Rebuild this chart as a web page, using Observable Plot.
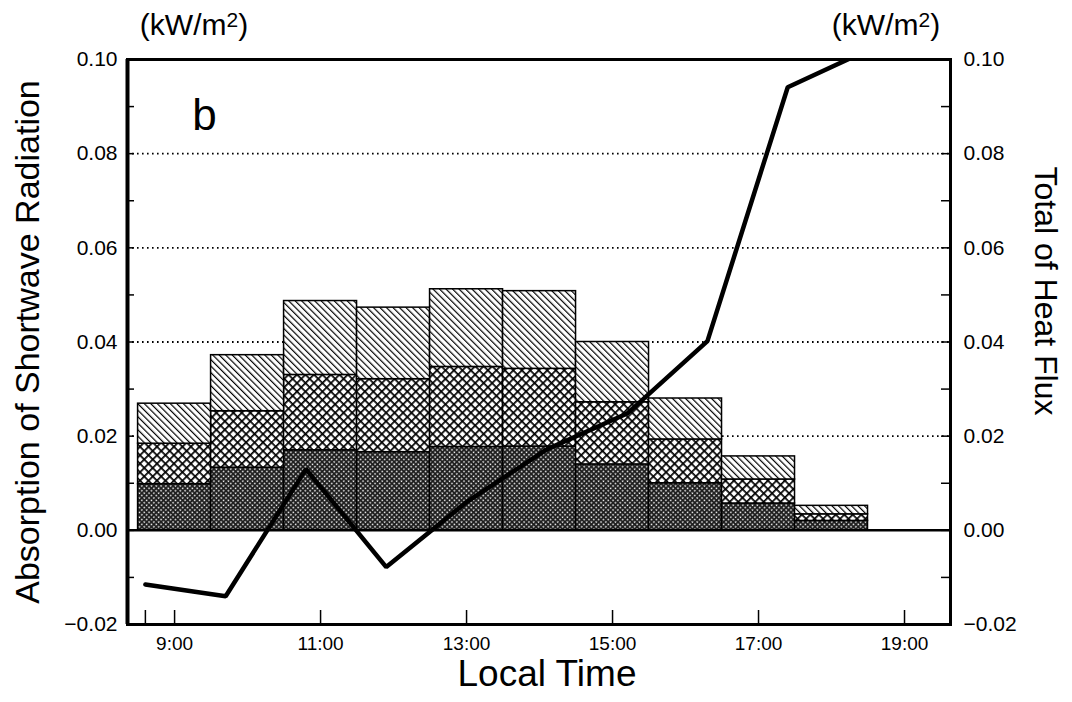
<!DOCTYPE html>
<html>
<head>
<meta charset="utf-8">
<script src="https://cdn.jsdelivr.net/npm/d3@7"></script>
<script src="https://cdn.jsdelivr.net/npm/@observablehq/plot@0.6"></script>
<style>
  html, body { margin: 0; padding: 0; background: #fff; }
  svg { display: block; }
</style>
</head>
<body>
<div id="chart"></div>
<script>
// ---- data ----
const hours = [9, 10, 11, 12, 13, 14, 15, 16, 17, 18];
const darkTop  = [0.0098, 0.0133, 0.0170, 0.0166, 0.0177, 0.0178, 0.0140, 0.0100, 0.0057, 0.0020];
const crossTop = [0.0184, 0.0253, 0.0330, 0.0321, 0.0347, 0.0343, 0.0272, 0.0193, 0.0108, 0.0034];
const hatchTop = [0.0269, 0.0372, 0.0487, 0.0473, 0.0512, 0.0508, 0.0400, 0.0280, 0.0157, 0.0052];

const fluxTimes  = [8.6, 9.7, 10.8, 11.9, 13.0, 14.1, 15.2, 16.3, 17.4, 18.5];
const fluxValues = [-0.0115, -0.0140, 0.0130, -0.0078, 0.0060, 0.0172, 0.0248, 0.0402, 0.0941, 0.1020];

const yTicks = [-0.02, 0.00, 0.02, 0.04, 0.06, 0.08, 0.10];
const yMinorTicks = [-0.01, 0.00, 0.01, 0.02, 0.03, 0.04, 0.05, 0.06, 0.07, 0.08, 0.09];
const gridValues = [0.02, 0.04, 0.06, 0.08];
const xLabelTicks = [9, 11, 13, 15, 17, 19];
const xTickMarks = [8.6, 9, 11, 13, 15, 17, 19];
const xDomain = [8.355, 19.63];
const yDomain = [-0.02, 0.10];

// ---- build tables ----
const bars = hours.map((h, i) => ({h, dark: darkTop[i], cross: crossTop[i], hatch: hatchTop[i]}));
const flux = fluxTimes.map((t, i) => ({t, v: fluxValues[i]}));

const W = 1072, H = 702;
const mL = 127, mR = 122, mT = 59, mB = 78;
const frameW = W - mL - mR, frameH = H - mT - mB;
const font = "'Liberation Sans', Arial, Helvetica, sans-serif";

const svg = Plot.plot({
  width: W, height: H,
  marginLeft: mL, marginRight: mR, marginTop: mT, marginBottom: mB,
  style: {fontFamily: font, background: "#fff", color: "#000", overflow: "visible"},
  x: {domain: xDomain},
  y: {domain: yDomain},
  marks: [
    Plot.ruleY(gridValues, {y: d => d, stroke: "#000", strokeWidth: 1.8, strokeDasharray: "1.6,3.4"}),
    Plot.rect(bars, {x1: d => d.h - 0.5, x2: d => d.h + 0.5, y1: 0, y2: d => d.dark,
      fill: "url(#pDark)", stroke: "#000", strokeWidth: 1.5}),
    Plot.rect(bars, {x1: d => d.h - 0.5, x2: d => d.h + 0.5, y1: d => d.dark, y2: d => d.cross,
      fill: "url(#pCross)", stroke: "#000", strokeWidth: 1.5}),
    Plot.rect(bars, {x1: d => d.h - 0.5, x2: d => d.h + 0.5, y1: d => d.cross, y2: d => d.hatch,
      fill: "url(#pHatch)", stroke: "#000", strokeWidth: 1.5}),
    Plot.ruleY([0], {stroke: "#000", strokeWidth: 2.5}),
    Plot.line(flux, {x: "t", y: "v", stroke: "#000", strokeWidth: 4.5, strokeLinejoin: "miter", clip: true}),
    // inward ticks
    Plot.ruleY(yMinorTicks, {y: d => d, insetRight: frameW - 7, stroke: "#000", strokeWidth: 1.5}),
    Plot.ruleY(yMinorTicks, {y: d => d, insetLeft: frameW - 9, stroke: "#000", strokeWidth: 1.5}),
    Plot.ruleX(xTickMarks, {x: d => d, insetTop: frameH - 14, stroke: "#000", strokeWidth: 1.5}),
    Plot.frame({stroke: "#000", strokeWidth: 3}),
    Plot.ruleX([xDomain[0]], {stroke: "#000", strokeWidth: 4}),
    Plot.axisY({anchor: "left", ticks: yTicks, tickFormat: d3.format(".2f"), tickSize: 0, tickPadding: 10, fontSize: 21, label: null}),
    Plot.axisY({anchor: "right", ticks: yTicks, tickFormat: d3.format(".2f"), tickSize: 0, tickPadding: 13, fontSize: 21, label: null}),
    Plot.axisX({ticks: xLabelTicks, tickFormat: d => d + ":00", tickSize: 0, tickPadding: 12, fontSize: 19, label: null}),
    Plot.text(["b"], {frameAnchor: "top-left", textAnchor: "middle", lineAnchor: "middle", dx: 77, dy: 56, fontSize: 44, text: d => d}),
    Plot.text(["Absorption of Shortwave Radiation"], {frameAnchor: "left", textAnchor: "middle", lineAnchor: "middle", dx: -99, rotate: -90, fontSize: 34, text: d => d}),
    Plot.text(["Total of Heat Flux"], {frameAnchor: "right", textAnchor: "middle", lineAnchor: "middle", dx: 95, dy: -51, rotate: 90, fontSize: 32, text: d => d}),
    Plot.text(["Local Time"], {frameAnchor: "bottom", textAnchor: "middle", lineAnchor: "middle", dx: 8, dy: 50, fontSize: 37, text: d => d})
  ]
});

// patterns
const defs = d3.select(svg).insert("defs", ":first-child");
const pH = defs.append("pattern").attr("id", "pHatch").attr("patternUnits", "userSpaceOnUse")
  .attr("width", 4.6).attr("height", 4.6).attr("patternTransform", "rotate(-45)");
pH.append("rect").attr("width", 4.6).attr("height", 4.6).attr("fill", "#fff");
pH.append("line").attr("x1", 0.6).attr("y1", -1).attr("x2", 0.6).attr("y2", 6).attr("stroke", "#000").attr("stroke-width", 1.2);

const pC = defs.append("pattern").attr("id", "pCross").attr("patternUnits", "userSpaceOnUse")
  .attr("width", 6).attr("height", 6).attr("patternTransform", "rotate(45)");
pC.append("rect").attr("width", 6).attr("height", 6).attr("fill", "#fff");
pC.append("rect").attr("x", 0).attr("y", 0).attr("width", 1.7).attr("height", 6).attr("fill", "#000");
pC.append("rect").attr("x", 0).attr("y", 0).attr("width", 6).attr("height", 1.7).attr("fill", "#000");

const pD = defs.append("pattern").attr("id", "pDark").attr("patternUnits", "userSpaceOnUse")
  .attr("width", 3.4).attr("height", 3.4).attr("patternTransform", "rotate(45)");
pD.append("rect").attr("width", 3.4).attr("height", 3.4).attr("fill", "#1c1c1c");
pD.append("rect").attr("x", 1.2).attr("y", 1.2).attr("width", 1.5).attr("height", 1.5).attr("fill", "#fff");

// unit labels with raised "2"
function unit(x) {
  const t = d3.select(svg).append("text").attr("x", x).attr("y", 35).attr("text-anchor", "middle")
    .attr("font-family", font).attr("font-size", 30).attr("fill", "#000");
  t.append("tspan").text("(kW/m");
  t.append("tspan").attr("font-size", 21).attr("dy", -8).text("2");
  t.append("tspan").attr("dy", 8).text(")");
}
unit(194);
unit(886);

document.getElementById("chart").appendChild(svg);
</script>
</body>
</html>
